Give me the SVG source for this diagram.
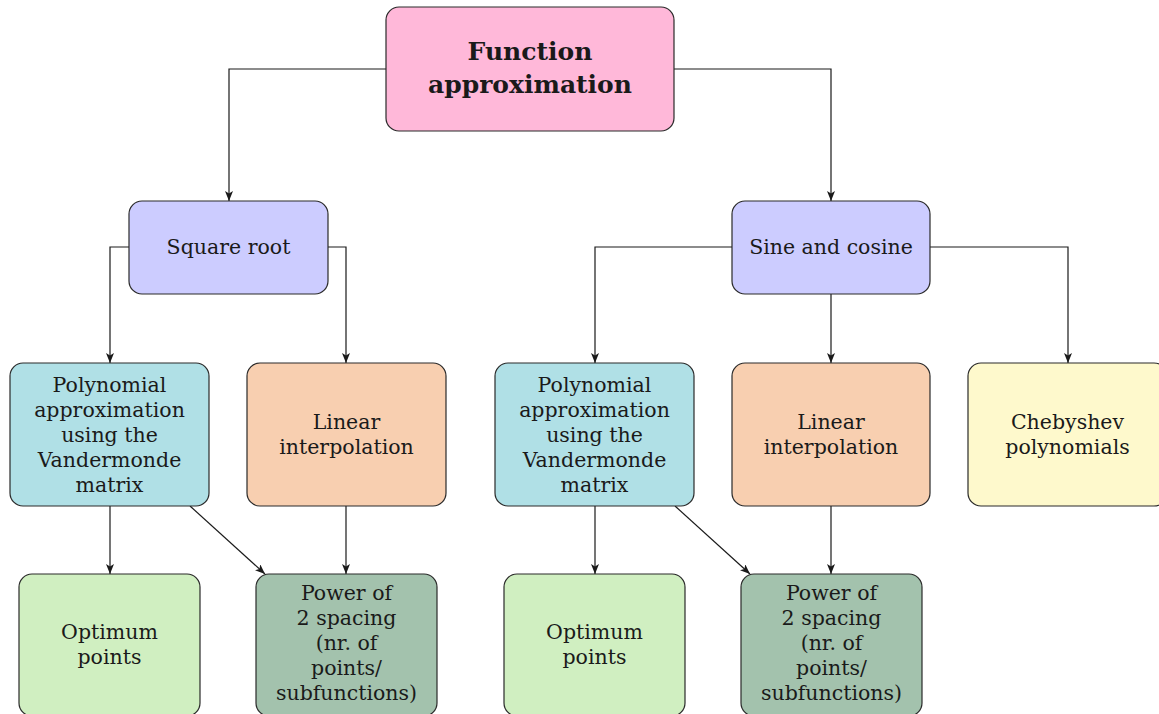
<svg xmlns="http://www.w3.org/2000/svg" width="1159" height="714" viewBox="0 0 1159 714">
<style>
.n{stroke:#2a2a2a;stroke-width:1.2}
.t{font-family:"DejaVu Serif","Liberation Serif",serif;font-size:20.5px;fill:#1a1a1a;text-anchor:middle}
.b{font-family:"DejaVu Serif","Liberation Serif",serif;font-size:25px;font-weight:bold;fill:#1a1a1a;text-anchor:middle}
.c{fill:none;stroke:#1a1a1a;stroke-width:1.2}
</style>
<defs>
<marker id="a" viewBox="0 0 10 8" refX="10" refY="4" markerWidth="10" markerHeight="8" markerUnits="userSpaceOnUse" orient="auto">
<path d="M0,0 L10,4 L0,8 L2.5,4 Z" fill="#1a1a1a"/>
</marker>
</defs>
<g id="connectors">
<path class="c" d="M386,69 H229 V201" marker-end="url(#a)"/>
<path class="c" d="M674,69 H831 V201" marker-end="url(#a)"/>
<path class="c" d="M129,247 H110 V363" marker-end="url(#a)"/>
<path class="c" d="M328,247 H346 V363" marker-end="url(#a)"/>
<path class="c" d="M732,247 H595 V363" marker-end="url(#a)"/>
<path class="c" d="M831,294 V363" marker-end="url(#a)"/>
<path class="c" d="M930,247 H1068 V363" marker-end="url(#a)"/>
<path class="c" d="M110,506 V574" marker-end="url(#a)"/>
<path class="c" d="M190,506 L265,574" marker-end="url(#a)"/>
<path class="c" d="M346,506 V574" marker-end="url(#a)"/>
<path class="c" d="M595,506 V574" marker-end="url(#a)"/>
<path class="c" d="M675,506 L750,574" marker-end="url(#a)"/>
<path class="c" d="M831,506 V574" marker-end="url(#a)"/>
</g>
<g id="root">
<rect class="n" x="386" y="7" width="288" height="124" rx="13" fill="#FFB8D9"/>
<text class="b" x="530" y="60">Function</text>
<text class="b" x="530" y="93">approximation</text>
</g>
<g id="sqrt">
<rect class="n" x="129" y="201" width="199" height="93" rx="13" fill="#CCCCFF"/>
<text class="t" x="228.5" y="254">Square root</text>
</g>
<g id="sincos">
<rect class="n" x="732" y="201" width="198" height="93" rx="13" fill="#CCCCFF"/>
<text class="t" x="831" y="254">Sine and cosine</text>
</g>
<g id="poly1">
<rect class="n" x="10" y="363" width="199" height="143" rx="13" fill="#B0E0E6"/>
<text class="t" x="109.5" y="392">Polynomial</text>
<text class="t" x="109.5" y="417">approximation</text>
<text class="t" x="109.5" y="442">using the</text>
<text class="t" x="109.5" y="467">Vandermonde</text>
<text class="t" x="109.5" y="492">matrix</text>
</g>
<g id="lin1">
<rect class="n" x="247" y="363" width="199" height="143" rx="13" fill="#F8CFB0"/>
<text class="t" x="346.5" y="429">Linear</text>
<text class="t" x="346.5" y="454">interpolation</text>
</g>
<g id="poly2">
<rect class="n" x="495" y="363" width="199" height="143" rx="13" fill="#B0E0E6"/>
<text class="t" x="594.5" y="392">Polynomial</text>
<text class="t" x="594.5" y="417">approximation</text>
<text class="t" x="594.5" y="442">using the</text>
<text class="t" x="594.5" y="467">Vandermonde</text>
<text class="t" x="594.5" y="492">matrix</text>
</g>
<g id="lin2">
<rect class="n" x="732" y="363" width="198" height="143" rx="13" fill="#F8CFB0"/>
<text class="t" x="831" y="429">Linear</text>
<text class="t" x="831" y="454">interpolation</text>
</g>
<g id="cheb">
<rect class="n" x="968" y="363" width="199" height="143" rx="13" fill="#FEF9CC"/>
<text class="t" x="1067.5" y="429">Chebyshev</text>
<text class="t" x="1067.5" y="454">polynomials</text>
</g>
<g id="opt1">
<rect class="n" x="19" y="574" width="181" height="142" rx="13" fill="#D0EFC1"/>
<text class="t" x="109.5" y="639">Optimum</text>
<text class="t" x="109.5" y="664">points</text>
</g>
<g id="pow1">
<rect class="n" x="256" y="574" width="181" height="142" rx="13" fill="#A3C2AD"/>
<text class="t" x="346.5" y="600">Power of</text>
<text class="t" x="346.5" y="625">2 spacing</text>
<text class="t" x="346.5" y="650">(nr. of</text>
<text class="t" x="346.5" y="675">points/</text>
<text class="t" x="346.5" y="700">subfunctions)</text>
</g>
<g id="opt2">
<rect class="n" x="504" y="574" width="181" height="142" rx="13" fill="#D0EFC1"/>
<text class="t" x="594.5" y="639">Optimum</text>
<text class="t" x="594.5" y="664">points</text>
</g>
<g id="pow2">
<rect class="n" x="741" y="574" width="181" height="142" rx="13" fill="#A3C2AD"/>
<text class="t" x="831.5" y="600">Power of</text>
<text class="t" x="831.5" y="625">2 spacing</text>
<text class="t" x="831.5" y="650">(nr. of</text>
<text class="t" x="831.5" y="675">points/</text>
<text class="t" x="831.5" y="700">subfunctions)</text>
</g>
</svg>
